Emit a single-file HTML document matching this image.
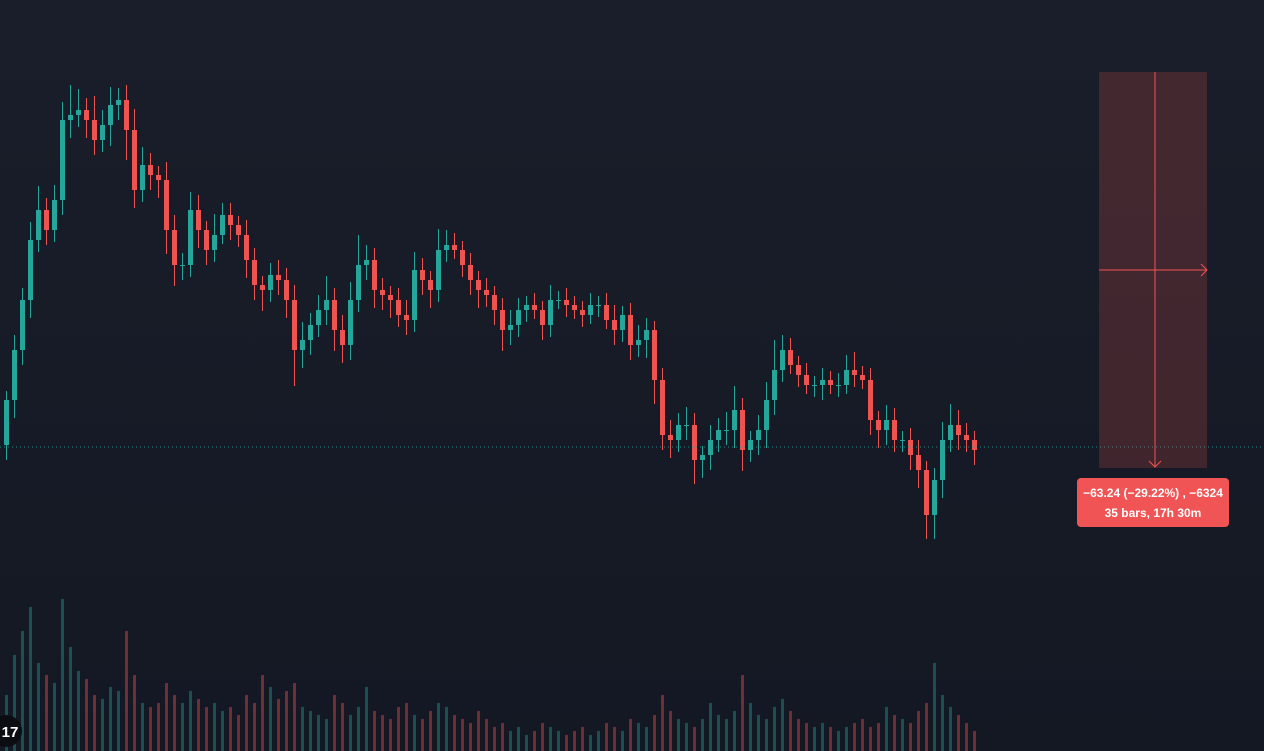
<!DOCTYPE html>
<html><head><meta charset="utf-8"><style>
html,body{margin:0;padding:0;background:#161a25;overflow:hidden}
svg{display:block}
</style></head><body>
<svg id="chart" width="1264" height="751" xmlns="http://www.w3.org/2000/svg" font-family="Liberation Sans, sans-serif">
<defs><linearGradient id="bg" x1="0" y1="0" x2="0" y2="1"><stop offset="0" stop-color="#1a1e2a"/><stop offset="1" stop-color="#141823"/></linearGradient></defs>
<rect x="0" y="0" width="1264" height="751" fill="url(#bg)"/>
<g id="vol"></g>
<g id="candles"></g>
<line x1="0" y1="447" x2="1264" y2="447" stroke="#26a69a" stroke-width="1" stroke-dasharray="1,3" opacity="0.8"/>
<g>
<rect x="1099" y="72" width="108" height="396" fill="#ef5350" fill-opacity="0.2"/>
<line x1="1155" y1="72" x2="1155" y2="467" stroke="#ef5350" stroke-width="1"/>
<path d="M1149 461 L1155 467 L1161 461" stroke="#ef5350" fill="none"/>
<line x1="1099" y1="270" x2="1207" y2="270" stroke="#ef5350" stroke-width="1"/>
<path d="M1201 264 L1207 270 L1201 276" stroke="#ef5350" fill="none"/>
<rect x="1077" y="478" width="152" height="49" rx="4" fill="#f05454"/>
<text x="1153" y="497" fill="#fff" font-size="12" font-weight="bold" text-anchor="middle">−63.24 (−29.22%) , −6324</text>
<text x="1153" y="517" fill="#fff" font-size="12" font-weight="bold" text-anchor="middle">35 bars, 17h 30m</text>
</g>
<g>
<circle cx="6" cy="731" r="16" fill="#0b0d12"/>
<text x="10" y="737" fill="#fff" font-size="15" font-weight="bold" text-anchor="middle">17</text>
</g>
</svg>
<script>
const closes=[175,200,225,255,270,260,275,315,317.5,320,315,305,312.5,322.5,325,310,280,292.5,287.5,285,260,242.5,242.5,270,260,250,257.5,267.5,262.5,257.5,245,232.5,230,237.5,235,225,200,205,212.5,220,225,210,202.5,225,242.5,245,230,227.5,225,217.5,215,240,235,230,250,252.5,250,242.5,235,230,227.5,220,210,212.5,220,222.5,220,212.5,225,225,222.5,220,217.5,222.5,222.5,215,210,217.5,202.5,205,210,185,157.5,155,162.5,162.5,145,147.5,155,160,160,170,150,155,160,175,190,200,192.5,187.5,182.5,182.5,185,182.5,182.5,190,187.5,185,165,160,165,155,155,147.5,140,117.5,135,155,162.5,157.5,155,150];
const firstOpen=152.5;
const upperWick=[3,5,4,6,8,4,5,6,10,7,4,8,5,6,4,5,7,6,4,3,6,5,4,6,5,3,7,4,4,3,5,4,3,4,5,4,5,6,4,5,8,4,5,6,10,5,4,4,3,4,5,6,4,3,7,5,4,3,4,3,4,3,4,5,4,3,4,3,5,3,4,3,3,4,3,4,5,3,4,5,4,3,4,5,4,6,4,3,5,4,6,8,4,3,5,6,10,5,4,3,4,3,4,3,4,5,6,3,4,3,5,4,3,4,5,3,4,6,7,5,4,3];
const lowerWick=[5,6,5,6,4,5,4,5,6,4,6,5,4,7,5,10,6,4,5,6,8,7,5,4,6,5,4,3,5,4,6,5,7,4,5,6,12,6,5,4,5,7,6,5,4,5,6,5,6,4,5,4,5,6,4,4,3,4,5,6,4,5,7,5,4,4,3,5,4,3,4,3,4,3,4,3,5,4,5,4,6,8,5,6,4,5,8,6,5,4,5,6,7,4,5,6,5,4,3,4,3,4,5,3,4,3,4,3,5,6,5,4,4,5,6,8,8,6,4,5,4,5];
const volumes=[70,120,150,180,110,95,85,190,130,100,90,70,65,80,75,150,95,60,55,60,85,70,60,75,65,55,60,50,55,45,70,60,95,80,65,75,85,55,50,45,40,70,60,45,55,80,50,45,40,55,60,45,40,50,60,55,45,40,35,50,40,30,35,25,30,20,25,35,30,25,20,25,30,20,25,35,30,25,40,35,30,45,70,50,40,35,30,40,60,45,40,50,95,60,45,40,55,65,50,40,35,30,35,30,25,30,35,40,30,35,55,45,40,35,50,60,110,70,55,45,35,25];
const X0=4,STEP=8,CW=5;
const yScale=p=>750-2*p;
const wickScale=w=>w*1.5;
const vScale=v=>v*0.8;
const svg='http://www.w3.org/2000/svg';
const cg=document.getElementById('candles'),vg=document.getElementById('vol');
let prev=firstOpen;
closes.forEach((c,i)=>{
  const o=prev,x=X0+i*STEP,up=c>=o;
  const col=up?'#26a69a':'#ef5350';
  const hi=Math.max(o,c)+wickScale(upperWick[i]??2),lo=Math.min(o,c)-wickScale(lowerWick[i]??2);
  const w=document.createElementNS(svg,'line');
  
  
  w.setAttribute('x1',x+CW/2);w.setAttribute('x2',x+CW/2);
  w.setAttribute('y1',yScale(hi));w.setAttribute('y2',yScale(lo));
  w.setAttribute('stroke',col);w.setAttribute('stroke-width','1');
  cg.appendChild(w);
  const b=document.createElementNS(svg,'rect');
  
  
  const yt=yScale(Math.max(o,c)),yb=yScale(Math.min(o,c));
  b.setAttribute('x',x);b.setAttribute('y',yt);b.setAttribute('width',CW);b.setAttribute('height',Math.max(1,yb-yt));
  b.setAttribute('fill',col);
  cg.appendChild(b);
  const v=document.createElementNS(svg,'rect');
  
  
  const vh=vScale(volumes[i]??0);
  v.setAttribute('x',x+1);v.setAttribute('y',751-vh);v.setAttribute('width',3);v.setAttribute('height',vh);
  v.setAttribute('fill',up?'#26a69a':'#ef5350');v.setAttribute('fill-opacity','0.4');
  vg.appendChild(v);
  prev=c;
});
</script>
</body></html>
